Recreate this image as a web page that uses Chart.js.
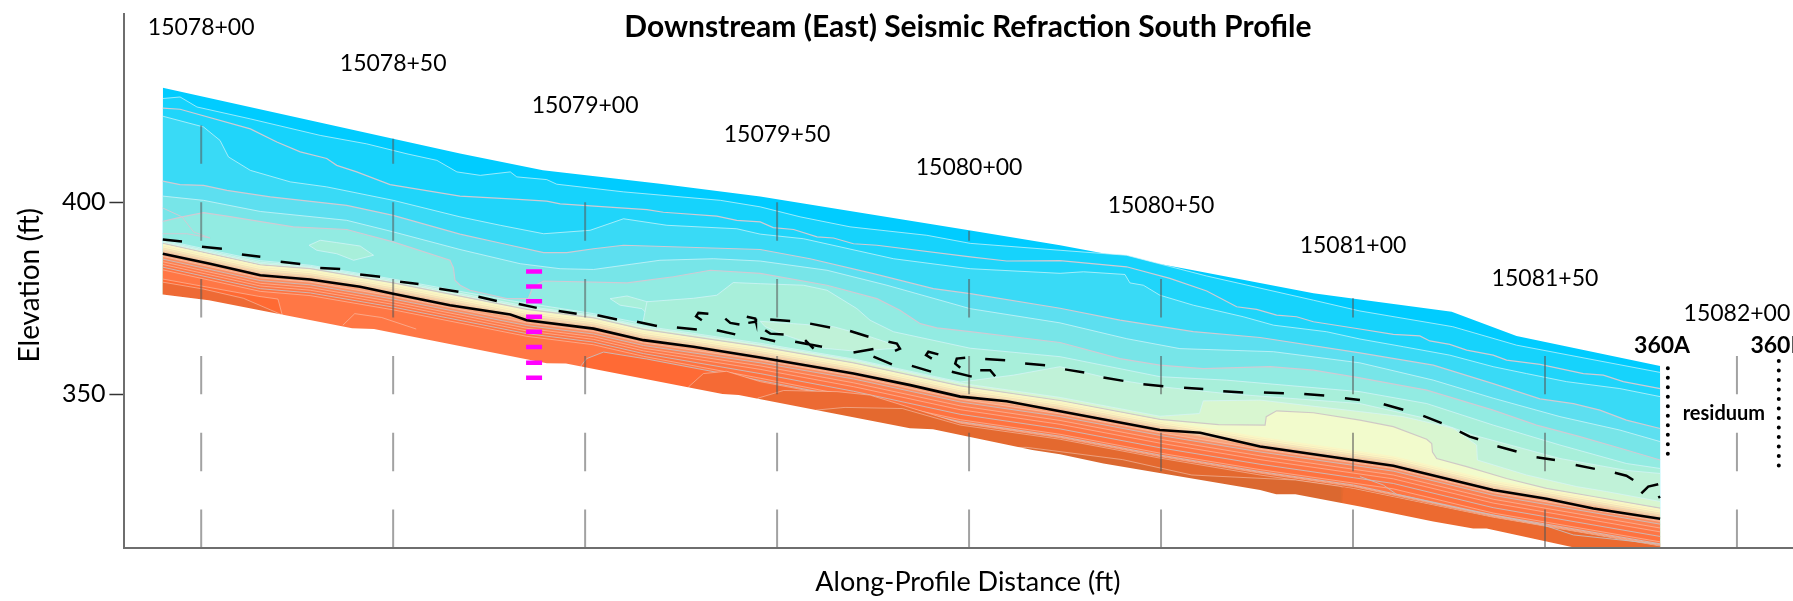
<!DOCTYPE html>
<html>
<head>
<meta charset="utf-8">
<title>Downstream (East) Seismic Refraction South Profile</title>
<script src="https://cdn.jsdelivr.net/npm/chart.js@4"></script>
<style>
  html, body { margin: 0; padding: 0; background: #fff; overflow: hidden; }
  canvas { display: block; }
</style>
</head>
<body>
<canvas id="chart" width="1793" height="601"></canvas>
<script>
// all values are [distance ft from 15078+00, elevation ft]
const stationX = [0, 50, 100, 150, 200, 250, 300, 350, 400];
const stationLabels = ['15078+00', '15078+50', '15079+00', '15079+50', '15080+00', '15080+50', '15081+00', '15081+50', '15082+00'];
const stationLabelElev = [445.5, 436.1, 425.2, 417.7, 409.1, 399.2, 388.6, 380.2, 370.9];
const stationTops = [420, 416.5, 400, 400, 392.5, 380, 375, 360, 360];
const stationDashStarts = [310, 330, 350, 370, 390, 410];
const yTicks = [350, 400];

const surface = [[-10,429.8],[50,416.5],[67.4,412.7],[89,408.3],[119.5,404.8],[145.6,401.5],[200,392.7],[223.7,388.8],[258.4,382.3],[289.7,376.3],[301.8,374.7],[325.7,371.5],[342.6,365.2],[380,357.4]];
const line1 = [[-10,427],[-5.5,427.4],[-1.1,424.8],[12.8,421.7],[31,417.4],[43.1,415.2],[53.6,412.6],[61.4,410.9],[66.6,407.9],[72.7,407],[80.5,407.9],[82.2,406.6],[90,405.9],[92.6,404.7],[110,402.7],[135.2,400.5],[145.6,398.8],[156,396.2],[169,393.6],[189,391.4],[200.3,389.3],[223.7,387.5],[241,386.2],[261.9,380.8],[289.7,374.5],[301.8,371.7],[326,367.6],[342.6,362.8],[380,355.7]];
const line2 = [[-10,424.5],[-5.5,424.2],[12.8,419.1],[19.7,415.7],[25.8,413.1],[32.7,411.4],[35.3,409.6],[40.5,407.9],[49.2,404.6],[67.4,401.6],[80.5,400.9],[90,400.3],[93.5,399.6],[116.1,398.1],[120.4,397.4],[134.3,396.4],[139.5,395.3],[145.6,394.9],[149,393.4],[154.3,392.9],[160.4,391],[164.7,390.7],[169.9,389.2],[176,388.8],[200.3,385.8],[209.8,384.7],[223.7,384.8],[241,383.2],[252.3,380.2],[261.9,376.9],[269.7,372.8],[274.9,372.1],[280.1,370.6],[285.3,370.2],[289.7,368.9],[301.8,367],[310.5,365.6],[317.4,365.2],[320,363.9],[325.2,363],[329.6,361.5],[336.5,360.2],[340,358.9],[348.7,357.8],[353.9,356.7],[360,355.4],[365.2,355],[370.4,353.3],[380,351.5]];
const line3 = [[-10,422.4],[.6,419.6],[4.9,416.1],[7.1,411.8],[12.8,408.3],[23.2,405.3],[32.7,404],[50,400.5],[67.4,396.2],[77.9,394],[89.2,391.8],[101.3,392.7],[110,395.7],[121.3,394],[139.5,393.1],[145.6,391.7],[156.9,390.5],[180.3,385.3],[200.3,382.7],[223.7,381.5],[229.8,381.9],[240.6,381.2],[241.9,379],[245.4,378.4],[249.7,375.8],[258.4,373.2],[271.4,370.2],[279.3,368],[293.1,366.3],[301.8,364.4],[313.1,362.4],[325.2,360.2],[336.5,357.2],[345.2,355.4],[355.6,353.3],[369.5,351.5],[380,349.4]];
const line4 = [[-10,405.5],[-5.5,404.6],[.6,404.4],[6.7,403.1],[18,401.4],[37.9,399.2],[50,396.6],[67.4,391.7],[78.7,389.2],[89.2,386.9],[95.2,386.9],[102.2,387.9],[110,388.8],[145.6,387.7],[158.6,385.3],[175.1,381.4],[190.7,377.5],[200.3,376.2],[223.7,372.4],[239.3,369.3],[258.4,366.3],[275.8,364.8],[301.8,360.8],[320.9,357.6],[336.5,352.8],[348.7,348.8],[357.4,347.6],[364.3,345.9],[371.2,343.3],[380,341.1]];
const line5 = [[-10,401.6],[.6,400.5],[15.4,397.6],[37.9,395.3],[50,392.3],[67.4,387.7],[83.1,384],[93.5,382.7],[102.2,382.5],[119.5,384.9],[133.4,385.3],[145.6,384.7],[163,382.3],[178.6,378.4],[200.3,372.3],[223.7,368.6],[241,364.5],[254.9,361.9],[279.3,361.1],[301.8,358.2],[320.9,353.7],[336.5,349],[353.9,344.2],[369.5,340.7],[380,337.7]];
const line6 = [[-10,395],[-5,396.2],[.6,397.3],[6.7,396.4],[24,393.6],[37.9,392.9],[50,389.7],[64.8,384.9],[65.7,382.9],[66.1,379.7],[67.45,378.4],[70,377.1],[79.6,374.9],[85.2,374.9],[86.4,378],[89.2,379.5],[110.9,379],[123,380.6],[132.6,382.3],[145.6,381.5],[163,378.4],[176,374.9],[182,371.9],[187.3,368.4],[191.6,367.3],[200.3,366.3],[223.7,363.5],[239.3,359.3],[249.7,357.6],[261,356.7],[278.4,357.2],[289.7,356.3],[301.8,354.3],[319.2,351.1],[336.5,345.9],[347.8,342],[359.1,339],[371.2,335.5],[380,332.9]];
const line7 = [[-10,390.2],[15.4,384.8],[28.4,383.6],[50,380],[67.45,376.8],[80.5,374.4],[102.2,371],[115,368.4],[116.1,374.1],[128.2,375],[134.3,375.8],[138.6,379.1],[145.6,378.8],[156.9,378.4],[163,377.1],[170.8,372.3],[174.2,369.3],[180.3,366.3],[200.3,362],[223.7,359.8],[236.7,357.2],[249.7,354.6],[267,353.7],[301.8,350.7],[319.2,347.6],[336.5,342],[353.9,336.8],[371.2,332],[380,330.7]];
const line8 = [[-10,389.9],[15.4,384.4],[28.4,383.3],[50,379.7],[84.8,372.9],[102.2,370.6],[115.2,367.8],[145.6,363.3],[169.9,359.2],[197.7,353.2],[211.6,355],[223.7,357.2],[236.7,354.1],[249.7,352],[267,350.2],[301.8,347.6],[319.2,343.7],[331.3,339.4],[353.9,333.3],[371.2,330.2],[380,329.4]];
const line9 = [[-10,389.6],[15.4,384],[28.4,383],[50,379.3],[84.8,372.5],[102.2,370.3],[115.2,367.4],[145.6,362.9],[169.9,358.9],[197.7,352.9],[223.7,349.2],[249.7,344.3],[260,345],[261,348.3],[275.8,348.5],[301.8,345.5],[313,344.2],[326.1,341.2],[332.2,336.8],[332.4,332.9],[345.2,329],[358.2,326],[366,324.7],[380,322.1]];
const line10 = [[-10,389.3],[15.4,383.7],[28.4,382.7],[50,379],[84.8,372.1],[102.2,369.9],[115.2,366.9],[145.6,362.4],[169.9,358.2],[197.7,352.2],[223.7,348.4],[249.7,343.5],[265,342.1],[277.1,342],[277.4,344.2],[280.1,345.7],[289.7,345.2],[301.8,343.3],[310.5,341.6],[319.2,338.3],[320.5,337.2],[320.7,335],[321.8,333.3],[329.6,331.2],[340,328.1],[350.4,325.5],[362.6,323.4],[380,320.4]];

// thin bands hugging the black line, same x nodes for each
const bandX = [-10, 15.4, 28.4, 50, 84.8, 102.2, 115.2, 145.6, 169.9, 197.7, 223.7, 249.7, 275.8, 300.1, 310.5, 336.5, 380];
const upper1 = [389, 383.4, 382.3, 378.6, 371.7, 369.5, 366.5, 362, 357.8, 351.8, 348, 343.1, 338.8, 335.3, 333.8, 327.5, 320];
const upper2 = [388.6, 383, 381.9, 378.2, 371.3, 369.1, 366.1, 361.6, 357.4, 351.4, 347.6, 342.7, 338.4, 334.9, 333.4, 327.1, 319.6];
const upper3 = [388.1, 382.5, 381.4, 377.7, 370.8, 368.6, 365.6, 361.1, 356.9, 350.9, 347.1, 342.2, 337.9, 334.4, 332.9, 326.6, 319.1];
const upper4 = [387.6, 382, 380.9, 377.2, 370.3, 368.1, 365.1, 360.6, 356.4, 350.4, 346.6, 341.7, 337.4, 333.9, 332.4, 326.1, 318.6];
const upper5 = [387.1, 381.5, 380.4, 376.7, 369.8, 367.6, 364.6, 360.1, 355.9, 349.9, 346.1, 341.2, 336.9, 333.4, 331.9, 325.6, 318.1];
const bandMid = [386.6, 381, 379.9, 376.2, 369.3, 367.1, 364.1, 359.6, 355.4, 349.4, 345.6, 340.7, 336.4, 332.9, 331.4, 325.1, 317.6];
const lower1 = [385.9, 380.3, 379.2, 375.5, 368.6, 366.4, 363.4, 358.9, 354.7, 348.7, 344.9, 340, 335.7, 332.2, 330.7, 324.4, 316.9];
const lower2 = [385.2, 379.6, 378.5, 374.8, 367.9, 365.7, 362.7, 358.2, 354, 348, 344.2, 339.3, 335, 331.5, 330, 323.7, 316.2];
const lower3 = [384.5, 378.9, 377.8, 374.1, 367.2, 365, 362, 357.4, 353, 347, 343.2, 338.3, 334, 330.5, 329, 322.7, 315.2];
const lower4 = [383.8, 378.2, 377.1, 373.4, 366.5, 364.3, 361.3, 356.5, 352, 346, 342.2, 337.3, 333, 329.5, 328, 321.7, 314.2];
const lower5 = [383.1, 377.5, 376.4, 372.7, 365.8, 363.6, 360.6, 355.4, 350.8, 344.8, 341, 336.1, 331.8, 328.3, 326.8, 320.5, 313];
const lower6 = [382.4, 376.8, 375.7, 372, 365.1, 362.9, 359.9, 354.2, 349.4, 343.4, 339.6, 334.7, 330.4, 326.9, 325.4, 319.1, 311.6];

// orange zones below the bands
const deepLeft = [[-10,380],[15,375.5],[20,374.8],[21,371],[21.5,368]];
const deepLeftLow = [[-10,379.2],[.6,377.4],[11,375],[18,372],[25,369]];
const deep1 = [[98.7,355],[99,357.5],[100.4,359.3],[104.8,361],[116,359.2],[145.6,353.6],[169.9,348.9],[197.7,342.9],[223.7,339.1],[249.7,334.2],[275.8,329.9],[300.1,326.4],[336.5,318.6],[380,311.1]];
const deep2 = [[126.8,350],[127,352],[130.8,355.4],[136.8,356],[145.6,353.3],[169.9,348.7],[197.7,342.7],[223.7,338.9],[249.7,334],[275.8,329.7],[300.1,326.2],[336.5,318.4],[380,310.9]];
const deep3 = [[144.8,346],[145,349],[151.7,351],[165.6,350.7],[174.2,349.8],[197.7,342.5],[223.7,338.7],[249.7,333.8],[275.8,329.5],[300.1,326],[336.5,318.2],[380,310.7]];
const deep4 = [[155,343],[160.2,345.9],[167.7,346.6],[182.6,346.3],[197.7,342],[223.7,338.3],[249.7,333.4],[275.8,329],[300.1,325.5],[336.5,318],[380,310.5]];
const deep5 = [[205,336],[215,336.2],[240,333],[258,329],[285,327.7],[297,326]];
const deep6 = [[297,318],[297.5,325.8],[336.5,317.8],[380,310.3]];
const bottomEdge = [[-12,376],[-10,376],[2,374.5],[39.3,367.2],[45,367],[90,358.1],[95,358],[104,356.3],[135.8,350.1],[140,349.8],[184.6,341.2],[190.6,340.9],[216.5,335.5],[223.7,334.4],[235,332],[275.8,325.1],[280,324],[285,324],[301.8,320.8],[320.9,316.9],[331.3,315.1],[334.8,315.1],[358.2,310],[380,305.5],[382,305]];

// closed patches: upper edge, lower edge
const patch1Top = [[28.1,388.8],[31,390.1],[35.3,389.5],[41.4,388.6],[44.9,386.2]];
const patch1Low = [[28.1,388.8],[30.1,387.5],[35.3,386.6],[39.7,384.9],[44.9,386.2]];
const patch2Top = [[106.5,374.9],[110.9,375.6],[116.5,374]];
const patch2Low = [[106.5,374.9],[109.1,373.2],[114.8,372.3],[116.5,370.6]];
const patch3Top = [[145.6,369],[154.3,368.4],[164.7,367.6],[174.2,365],[182,362.4]];
const patch3Low = [[145.6,369],[146.9,367.6],[152.1,365.4],[156,364.1],[162.1,362],[170.8,361.2],[182,362.1]];

// extra thin contours with no fill of their own
const trace1 = [[-10,398.5],[-5,396.2],[-2,392.3],[2.3,390.7]];
const trace2 = [[-10,391.8],[-3.7,391.8],[2.3,390.7]];
const trace3 = [[301.8,328.6],[307.9,326.4],[311.3,324],[327.8,320.3],[349.5,316],[357.4,313.4],[380,311]];
const trace4 = [[36.9,368],[40,371],[47,370],[56,367]];

const blackLine = [[-10,386.6],[2.3,384],[15.4,381],[28.4,379.9],[41.4,378],[50,376.2],[64.8,373.2],[80.5,370.8],[84.8,369.3],[102.2,367.1],[115.2,364.1],[128.2,362.4],[145.6,359.6],[169.9,355.4],[184.7,352.4],[197.7,349.4],[209.8,348.2],[223.7,345.6],[249.7,340.7],[260.2,340],[275.8,336.4],[300.1,332.9],[310.5,331.4],[336.5,325.1],[350.4,322.8],[362.6,320.3],[380,317.6]];

// null splits the pieces
const dashedLine = [
  [-10,390.3],[-5,389.8],null,[.2,388.4],[5.4,387.9],null,[10.6,386.4],[15.4,385.8],null,[20.7,384.5],[25.8,383.9],null,
  [31,382.9],[36.2,382.6],null,[41.4,381.2],[46.6,380.6],null,[51.8,379.3],[56.6,378.7],null,[62,377.5],[67,376.7],null,
  [72.2,375.4],[77,374.3],null,[82.7,373.5],[87.4,372.5],null,[93.1,371.7],[97.8,371],null,[103.2,370.6],[108.3,369.5],null,
  [113.5,368.9],[118.7,367.8],null,[123.9,367.4],[129.1,366.9],null,[134.3,366.7],[139.1,365.6],null,[145.6,364.7],[149.5,363.8],null,
  [154.7,363.7],[161.7,362.4],null,[157.3,364.1],[159.5,361.9],null,[169.9,360.9],[175.1,361.8],null,[175.1,359.8],[179.9,357.8],null,
  [185.1,357.4],[190.1,355.9],null,[195.5,355.9],[200.7,354.6],null,
  [148.2,369.5],[153.4,369.1],null,[158.6,368.4],[163.8,367.4],null,[169,366.5],[173.8,365],null,[179,363.7],[181.2,363.2],[182,361.9],[180.7,361.3],null,
  [146.9,366.7],[148.2,365.8],[151.7,365.6],null,[132.1,371],[129.5,371.2],[128.9,370.3],[130.4,369.3],null,
  [136.5,369.7],[137.8,368.6],[140.2,368.2],null,[142.1,370.2],[144.3,369.7],[144.5,368.9],[142.5,368.6],null,
  [192,360.4],[189.4,361.1],[188.8,360.2],[190.3,359.3],null,[199,359.5],[196.8,359.3],[196.4,358],[197.7,356.9],null,
  [202.9,356.3],[205.5,356.3],[206.8,354.7],null,
  [204.2,359.2],[209.4,358.9],null,[214.6,358],[219.8,357.6],null,[225,356.5],[230,355.7],null,[235,354.4],[240.2,353.5],null,
  [245.4,352.6],[250.6,352.1],null,[256,351.7],[261,351.4],null,[266.2,350.8],[271.4,350.5],null,[276.8,350.5],[282,350.3],null,
  [287.3,350.1],[292.5,349.7],null,[297.9,349],[301.8,348.5],null,[308,347.4],[313.1,346],null,[318.3,344.4],[323.1,342.5],null,
  [327.8,340.3],[330.4,339],[332.6,338.3],null,[337.6,336.5],[342.6,335.1],null,[347.8,333.6],[352.6,332.9],null,[358,331.6],[363,330.6],null,
  [368.2,329.6],[371.2,328.8],[373,327.7],null,[375.1,324.2],[376.9,326],[379.5,326.6],null,[379.5,323.1],[380,323.4]
];

const magentaX = 86.7;
const magentaElev = [382, 378.1, 374.2, 370.2, 366.3, 362.3, 358.2, 354.3];
const dotted360A = [[382,356.8],[382,332.4]];
const dotted360B = [[410.9,358.7],[410.9,330.1]];

const toPoints = arr => arr.map(p => p ? {x: p[0], y: p[1]} : {x: null, y: null});
const onBand = ys => ys.map((y, i) => [bandX[i], y]);

const datasets = [];
function add(ds) {
  ds.order = -datasets.length; // later entries paint over earlier ones
  datasets.push(Object.assign({pointRadius: 0, tension: 0, borderWidth: 0, fill: false, spanGaps: false}, ds));
}
function band(points, color, stroke, w) {
  add({data: toPoints(points), fill: 'start', backgroundColor: color, borderColor: stroke || color, borderWidth: stroke ? (w || 1) : 0});
}
function patch(top, low, color, stroke) {
  add({data: toPoints(top), fill: '+1', backgroundColor: color, borderColor: stroke, borderWidth: 1});
  add({data: toPoints(low), borderColor: stroke, borderWidth: 1});
}
function trace(points, stroke) {
  add({data: toPoints(points), borderColor: stroke, borderWidth: 1});
}

const PALE = 'rgba(215,245,250,0.7)';
const PINK = '#d0cbd4';
const STRIPE = 'rgba(245,205,190,0.55)';
const GREYLINE = 'rgba(200,190,190,0.9)';

band(surface, '#00ccff');
band(line1, '#16d3fc', PALE);
band(line2, '#20d5fa', PINK, 1.2);
band(line3, '#39daf6', PALE);
band(line4, '#5ddff0', PINK, 1.2);
band(line5, '#77e5e8', PALE);
band(line6, '#92ebe2', PINK, 1.2);
trace(trace1, PINK);
trace(trace2, PINK);
patch(patch1Top, patch1Low, '#a8efda', PALE);
patch(patch2Top, patch2Low, '#a8efda', PALE);
band(line7, '#a8efda', PALE);
patch(patch3Top, patch3Low, '#c0f2d8', PALE);
band(line8, '#c0f2d8', PALE);
band(line9, '#d8f6d0', PALE);
band(line10, '#f2fbcc', '#cfc9c6', 1.2);
band(onBand(upper1), '#fdfac6', '#faf6c4');
band(onBand(upper2), '#fff6c0', '#f6eec0');
band(onBand(upper3), '#fde8b4', '#f2e2bc');
band(onBand(upper4), '#fbd5a4', '#eed6b6');
band(onBand(upper5), '#f9bb90', '#ecc6aa');
band(onBand(bandMid), '#f9a47c');
band(onBand(lower1), '#fb8f64', STRIPE);
band(onBand(lower2), '#fc8152', GREYLINE);
band(onBand(lower3), '#fd7a4a', STRIPE);
band(onBand(lower4), '#fe7645', STRIPE);
band(onBand(lower5), '#ff7340', GREYLINE);
band(onBand(lower6), '#ff7745', STRIPE);
band(deepLeft, '#ff6a33', STRIPE);
band(deepLeftLow, '#ee6a35', STRIPE);
trace(trace4, STRIPE);
band(deep1, '#ff6a35', GREYLINE);
band(deep2, '#f56a35', STRIPE);
band(deep3, '#ec6a33', STRIPE);
band(deep4, '#e4692f', STRIPE);
band(deep5, '#db6830', STRIPE);
band(deep6, '#ec6a30');
trace(trace3, GREYLINE);
band(bottomEdge, '#ffffff'); // everything under the section is blank

// station ticks, 10 ft on 10 ft off, cut at the ground surface
const stationDashes = [];
stationX.forEach((x, i) => {
  stationDashStarts.forEach(start => {
    if (start < stationTops[i]) {
      stationDashes.push([x, start], [x, Math.min(start + 10, stationTops[i])], null);
    }
  });
});
add({data: toPoints(stationDashes), borderColor: 'rgba(85,85,85,0.55)', borderWidth: 2});

add({data: toPoints(blackLine), borderColor: '#000', borderWidth: 2.6});
add({data: toPoints(dashedLine), borderColor: '#000', borderWidth: 2.5});
add({data: toPoints(dotted360A), borderColor: '#000', borderWidth: 4, borderDash: [0.1, 9.4], borderCapStyle: 'round'});
add({data: toPoints(dotted360B), borderColor: '#000', borderWidth: 4, borderDash: [0.1, 9.4], borderCapStyle: 'round'});
add({
  data: magentaElev.map(y => ({x: magentaX, y: y})),
  showLine: false, pointStyle: 'line', pointRadius: 8, pointBorderColor: '#ff00ff', pointBorderWidth: 4.5
});

// text that sits in data positions
const labelPlugin = {
  id: 'labels',
  afterDraw(chart) {
    const {ctx, scales} = chart;
    const text = (s, x, y, font, align) => {
      ctx.font = font;
      ctx.textAlign = align || 'center';
      ctx.textBaseline = 'middle';
      ctx.fillStyle = '#000';
      ctx.fillText(s, scales.x.getPixelForValue(x), scales.y.getPixelForValue(y));
    };
    ctx.save();
    stationLabels.forEach((s, i) => text(s, stationX[i], stationLabelElev[i], '23px Lato'));
    text('Downstream (East) Seismic Refraction South Profile', 199.7, 445.5, 'bold 30px Lato');
    text('Along-Profile Distance (ft)', 199.7, 301.2, '27px Lato');
    text('360A', 380.5, 362.8, 'bold 23px Lato');
    text('360B', 403.5, 362.8, 'bold 23px Lato', 'left');
    text('residuum', 396.6, 345.1, 'bold 20px Lato');
    ctx.translate(scales.x.getPixelForValue(-44.5), scales.y.getPixelForValue(378.4));
    ctx.rotate(-Math.PI / 2);
    ctx.font = '28px Lato';
    ctx.textAlign = 'center';
    ctx.fillText('Elevation (ft)', 0, 0);
    ctx.restore();
  }
};

new Chart(document.getElementById('chart').getContext('2d'), {
  type: 'line',
  data: {datasets: datasets},
  plugins: [labelPlugin],
  options: {
    responsive: false,
    animation: false,
    devicePixelRatio: 1,
    layout: {autoPadding: false, padding: {top: 14, right: 0, bottom: 0, left: 0}},
    plugins: {legend: {display: false}, tooltip: {enabled: false}, filler: {propagate: false}},
    scales: {
      x: {
        type: 'linear',
        min: -20,
        max: 414.6,
        grid: {display: false},
        border: {color: '#6e6e6e', width: 2, z: 1},
        ticks: {display: false},
        afterFit(scale) { scale.height = 53; }
      },
      y: {
        type: 'linear',
        bounds: 'data',
        min: 310,
        max: 449,
        grid: {drawOnChartArea: false, drawTicks: true, tickLength: 15, tickColor: '#333', tickWidth: 1.5},
        border: {color: '#6e6e6e', width: 2, z: 1},
        ticks: {font: {family: 'Lato', size: 25}, color: '#000', padding: 4},
        afterBuildTicks(scale) { scale.ticks = yTicks.map(v => ({value: v})); },
        afterFit(scale) {
          scale.width = 124.4;
          // tick labels must not push the plot top down
          scale.paddingTop = 0;
          scale.paddingBottom = 0;
        }
      }
    }
  }
});
</script>
</body>
</html>
